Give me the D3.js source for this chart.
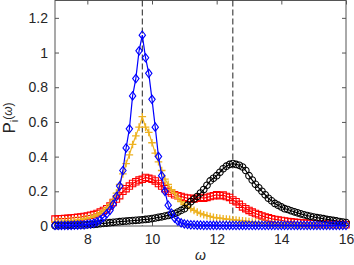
<!DOCTYPE html>
<html>
<head>
<meta charset="utf-8">
<script src="https://d3js.org/d3.v7.min.js"></script>
<style>
  body { margin: 0; background: #fff; }
  text { font-family: "Liberation Sans", Arial, Helvetica, sans-serif; fill: #262626; }
</style>
</head>
<body>
<div id="chart"></div>
<script>

  // omega grid, 7 .. 16
  const omega = [
    7.0,7.1,7.2,7.3,7.4,7.5,7.6,7.7,7.8,7.9,
    8.0,8.1,8.2,8.3,8.4,8.5,8.6,8.7,8.8,8.9,
    9.0,9.1,9.2,9.3,9.4,9.5,9.6,9.7,9.8,9.9,
    10.0,10.1,10.2,10.3,10.4,10.5,10.6,10.7,10.8,10.9,
    11.0,11.1,11.2,11.3,11.4,11.5,11.6,11.7,11.8,11.9,
    12.0,12.1,12.2,12.3,12.4,12.5,12.6,12.7,12.8,12.9,
    13.0,13.1,13.2,13.3,13.4,13.5,13.6,13.7,13.8,13.9,
    14.0,14.1,14.2,14.3,14.4,14.5,14.6,14.7,14.8,14.9,
    15.0,15.1,15.2,15.3,15.4,15.5,15.6,15.7,15.8,15.9,16.0
  ];

  const pRed = [
    0.040,0.041,0.042,0.043,0.044,0.046,0.048,0.050,0.052,0.055,
    0.058,0.062,0.066,0.072,0.080,0.090,0.100,0.115,0.135,0.155,
    0.175,0.200,0.215,0.230,0.245,0.255,0.265,0.270,0.280,0.275,
    0.270,0.260,0.245,0.230,0.215,0.200,0.190,0.180,0.175,0.170,
    0.165,0.160,0.160,0.155,0.160,0.165,0.160,0.165,0.170,0.175,
    0.180,0.175,0.178,0.170,0.165,0.150,0.140,0.125,0.110,0.100,
    0.090,0.080,0.072,0.065,0.058,0.052,0.047,0.042,0.038,0.035,
    0.032,0.029,0.026,0.024,0.022,0.020,0.018,0.017,0.016,0.015,
    0.014,0.013,0.012,0.011,0.010,0.010,0.009,0.009,0.008,0.008,0.007
  ];

  const pOrange = [
    0.025,0.026,0.027,0.028,0.030,0.031,0.033,0.035,0.038,0.041,
    0.045,0.050,0.057,0.065,0.075,0.088,0.104,0.125,0.150,0.190,
    0.240,0.300,0.360,0.410,0.470,0.520,0.570,0.630,0.570,0.540,
    0.480,0.420,0.370,0.320,0.270,0.240,0.210,0.190,0.160,0.140,
    0.125,0.110,0.100,0.090,0.080,0.072,0.065,0.060,0.055,0.050,
    0.047,0.045,0.042,0.040,0.038,0.036,0.034,0.032,0.030,0.028,
    0.025,0.023,0.021,0.019,0.017,0.015,0.014,0.013,0.012,0.011,
    0.010,0.009,0.009,0.008,0.008,0.007,0.007,0.006,0.006,0.006,
    0.005,0.005,0.005,0.005,0.005,0.005,0.005,0.005,0.005,0.005,0.005
  ];

  const pBlack = [
    0.002,0.002,0.003,0.003,0.003,0.004,0.004,0.005,0.005,0.006,
    0.007,0.008,0.009,0.011,0.013,0.015,0.017,0.019,0.021,0.023,
    0.025,0.027,0.028,0.030,0.031,0.033,0.034,0.036,0.038,0.040,
    0.043,0.046,0.050,0.053,0.057,0.061,0.066,0.072,0.080,0.090,
    0.100,0.120,0.140,0.155,0.170,0.190,0.210,0.235,0.260,0.275,
    0.290,0.310,0.330,0.345,0.355,0.360,0.355,0.350,0.340,0.320,
    0.290,0.265,0.240,0.220,0.200,0.180,0.160,0.145,0.130,0.120,
    0.110,0.100,0.095,0.088,0.082,0.076,0.070,0.065,0.060,0.056,
    0.052,0.048,0.045,0.042,0.038,0.035,0.032,0.029,0.026,0.023,0.020
  ];

  const pBlue = [
    0.003,0.003,0.003,0.004,0.004,0.004,0.005,0.005,0.006,0.007,
    0.010,0.012,0.017,0.025,0.035,0.050,0.070,0.090,0.125,0.170,
    0.230,0.320,0.450,0.560,0.750,0.850,1.010,1.100,0.970,0.880,
    0.730,0.570,0.400,0.290,0.200,0.120,0.075,0.045,0.028,0.018,
    0.012,0.009,0.007,0.006,0.005,0.005,0.004,0.004,0.004,0.004,
    0.003,0.003,0.003,0.003,0.003,0.003,0.003,0.003,0.003,0.003,
    0.003,0.003,0.003,0.003,0.003,0.003,0.003,0.003,0.003,0.003,
    0.003,0.003,0.003,0.003,0.003,0.003,0.003,0.003,0.003,0.003,
    0.003,0.003,0.003,0.003,0.003,0.003,0.003,0.003,0.003,0.003,0.003
  ];

  const xTicks = [8, 10, 12, 14, 16];
  const yTicks = [0, 0.2, 0.4, 0.6, 0.8, 1, 1.2];
  const refLines = [9.7, 12.5];

  const w = 354, h = 265;
  const padL = 55, padR = 346, padT = 0.5, padB = 226;

  const xScale = d3.scaleLinear().domain([7, 16]).range([padL, padR]);
  const yScale = d3.scaleLinear().domain([0, 1.3]).range([padB, padT]);

  const svg = d3.select("#chart").append("svg")
                .attr("width", w)
                .attr("height", h);

  const axisCol = "#555";

  // box
  svg.append("rect")
     .attr("x", padL).attr("y", padT)
     .attr("width", padR - padL).attr("height", padB - padT)
     .attr("fill", "none").attr("stroke", axisCol).attr("stroke-width", 1);

  // axes with inward ticks
  const xAxis = d3.axisBottom(xScale).tickValues(xTicks).tickSizeInner(-4).tickSizeOuter(0).tickPadding(8);
  const yAxis = d3.axisLeft(yScale).tickValues(yTicks).tickSizeInner(-4).tickSizeOuter(0).tickPadding(7)
                  .tickFormat(d => String(+d.toFixed(1)));
  const xTop = d3.axisTop(xScale).tickValues(xTicks).tickSizeInner(-4).tickSizeOuter(0).tickFormat("");
  const yRight = d3.axisRight(yScale).tickValues(yTicks).tickSizeInner(-4).tickSizeOuter(0).tickFormat("");

  function styleAxis(g) {
    g.select(".domain").remove();
    g.selectAll("line").attr("stroke", axisCol);
    g.selectAll("text").style("font-size", "14px").attr("fill", "#262626");
  }

  svg.append("g").attr("transform", "translate(0," + padB + ")").call(xAxis).call(styleAxis);
  svg.append("g").attr("transform", "translate(" + padL + ",0)").call(yAxis).call(styleAxis);
  svg.append("g").attr("transform", "translate(0," + padT + ")").call(xTop).call(styleAxis);
  svg.append("g").attr("transform", "translate(" + padR + ",0)").call(yRight).call(styleAxis);

  // dashed reference lines
  svg.selectAll("line.ref")
     .data(refLines)
     .enter()
     .append("line")
     .attr("class", "ref")
     .attr("x1", d => xScale(d)).attr("x2", d => xScale(d))
     .attr("y1", padT).attr("y2", padB)
     .attr("stroke", "#222").attr("stroke-width", 1)
     .attr("stroke-dasharray", "6,3");

  const line = d3.line()
                 .x((d, i) => xScale(omega[i]))
                 .y(d => yScale(d));

  const series = [
    { vals: pRed,    color: "#ff0000", marker: "square" },
    { vals: pOrange, color: "#edb120", marker: "plus" },
    { vals: pBlack,  color: "#000000", marker: "circle" },
    { vals: pBlue,   color: "#0000ff", marker: "diamond" }
  ];

  function markerPath(type) {
    if (type === "square") return "M-3.2,-3.2H3.2V3.2H-3.2Z";
    if (type === "diamond") return "M0,-4.2L3.2,0L0,4.2L-3.2,0Z";
    if (type === "plus") return "M-3.8,0H3.8M0,-3.8V3.8";
    return "M3.3,0A3.3,3.3 0 1,1 -3.3,0A3.3,3.3 0 1,1 3.3,0Z";
  }

  series.forEach(s => {
    const g = svg.append("g");
    g.append("path")
     .datum(s.vals)
     .attr("d", line)
     .attr("fill", "none")
     .attr("stroke", s.color)
     .attr("stroke-width", 1.2);

    g.selectAll("path.m")
     .data(s.vals)
     .enter()
     .append("path")
     .attr("class", "m")
     .attr("transform", (d, i) => "translate(" + xScale(omega[i]) + "," + yScale(d) + ")")
     .attr("d", markerPath(s.marker))
     .attr("fill", "none")
     .attr("stroke", s.color)
     .attr("stroke-width", s.marker === "plus" ? 1.3 : 1.1);
  });

  // axis labels
  svg.append("text")
     .attr("x", (padL + padR) / 2)
     .attr("y", 260)
     .attr("text-anchor", "middle")
     .style("font-size", "14px")
     .style("font-style", "italic")
     .text("ω");

  const yl = svg.append("text")
     .attr("transform", "translate(15,118) rotate(-90)")
     .attr("text-anchor", "middle")
     .style("font-size", "17px");
  yl.append("tspan").text("P");
  yl.append("tspan").attr("dy", 3).style("font-size", "11px").text("i");
  yl.append("tspan").attr("dy", -6).style("font-size", "12px").text("(");
  yl.append("tspan").style("font-size", "12px").style("font-style", "italic").text("ω");
  yl.append("tspan").style("font-size", "12px").text(")");

</script>
</body>
</html>
